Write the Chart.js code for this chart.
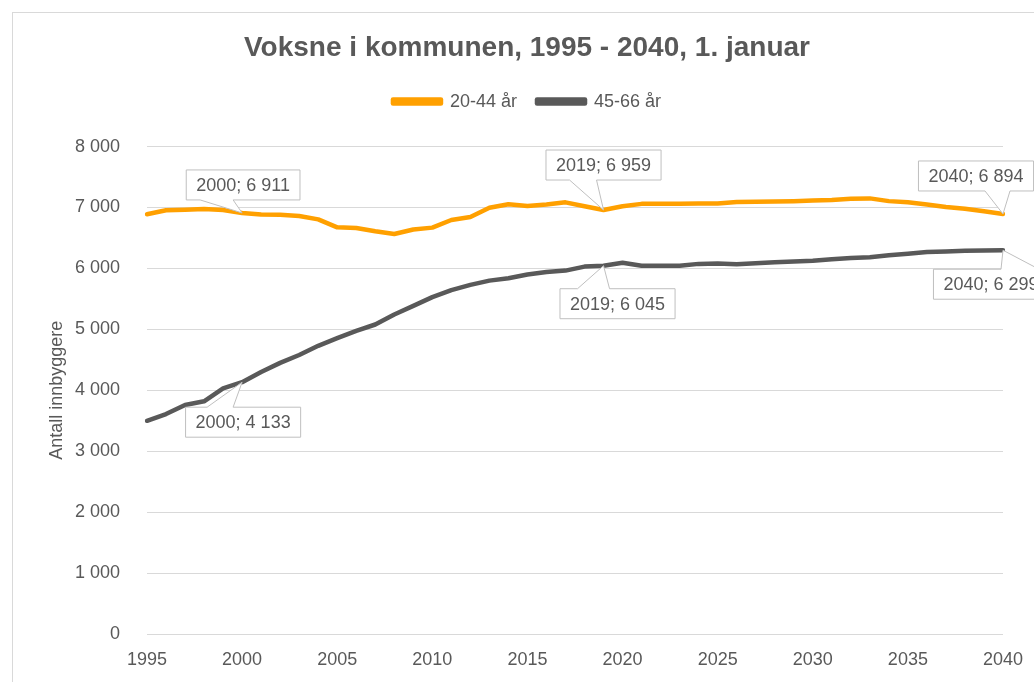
<!DOCTYPE html>
<html>
<head>
<meta charset="utf-8">
<script src="https://cdn.jsdelivr.net/npm/chart.js@4.4.0/dist/chart.umd.min.js"></script>
<style>
  html, body { margin: 0; padding: 0; background: #fff; overflow: hidden; }
  #box { position: absolute; left: 12px; top: 12px; width: 1030px; height: 700px; border: 1px solid #d9d9d9; }
  canvas { display: block; }
</style>
</head>
<body>
<div id="box"><canvas id="chart" width="1030" height="700"></canvas></div>
<script>
// Data

var years = [1995, 1996, 1997, 1998, 1999, 2000, 2001, 2002, 2003, 2004,
             2005, 2006, 2007, 2008, 2009, 2010, 2011, 2012, 2013, 2014,
             2015, 2016, 2017, 2018, 2019, 2020, 2021, 2022, 2023, 2024,
             2025, 2026, 2027, 2028, 2029, 2030, 2031, 2032, 2033, 2034,
             2035, 2036, 2037, 2038, 2039, 2040];

var age20to44 = [6890, 6955, 6965, 6975, 6960, 6911, 6885, 6880, 6860, 6805,
                 6675, 6665, 6610, 6565, 6640, 6670, 6795, 6845, 6995, 7055,
                 7025, 7050, 7085, 7020, 6959, 7020, 7060, 7060, 7060, 7065,
                 7065, 7090, 7095, 7100, 7105, 7115, 7125, 7145, 7150, 7105,
                 7085, 7050, 7010, 6980, 6940, 6894];

var age45to66 = [3500, 3610, 3760, 3820, 4030, 4133, 4300, 4450, 4580, 4730,
                 4855, 4975, 5080, 5245, 5385, 5530, 5645, 5730, 5800, 5840,
                 5900, 5940, 5965, 6030, 6045, 6095, 6045, 6045, 6045, 6075,
                 6080, 6070, 6085, 6100, 6115, 6125, 6150, 6170, 6185, 6215,
                 6240, 6270, 6280, 6290, 6295, 6299];

var seriesNames = ['20-44 år', '45-66 år'];
var yTicks = [0, 1000, 2000, 3000, 4000, 5000, 6000, 7000, 8000];
var labelYears = [2000, 2019, 2040];

var FONT = '"Liberation Sans", Arial, sans-serif';
var GREY = '#595959';

function fmt(v) {
  return String(v).replace(/\B(?=(\d{3})+(?!\d))/g, ' ');
}

// where each callout box sits relative to its point (dataset, year, offsets, wedge side/base)
var callouts = [
  {ds: 0, year: labelYears[0], dx: 1,   dy: -28, side: 'bottom', b: [-42, -9]},
  {ds: 0, year: labelYears[1], dx: 0,   dy: -45, side: 'bottom', b: [-34, -7]},
  {ds: 0, year: labelYears[2], dx: -27, dy: -38, side: 'bottom', b: [-18, 7]},
  {ds: 1, year: labelYears[0], dx: 1,   dy: 40,  side: 'top',    b: [-35, -9]},
  {ds: 1, year: labelYears[1], dx: 14,  dy: 38,  side: 'top',    b: [-26, 6]},
  {ds: 1, year: labelYears[2], dx: -12, dy: 34,  side: 'top',    b: [-2, 36]}
];

var calloutPlugin = {
  id: 'callouts',
  afterDatasetsDraw: function(chart) {
    var ctx = chart.ctx;
    ctx.save();
    ctx.font = '18px ' + FONT;
    callouts.forEach(function(c) {
      var i = years.indexOf(c.year);
      var pt = chart.getDatasetMeta(c.ds).data[i];
      var val = chart.data.datasets[c.ds].data[i];
      var txt = c.year + '; ' + fmt(val);
      var w = ctx.measureText(txt).width + 20, h = 30;
      var cx = pt.x + c.dx, cy = pt.y + c.dy;
      var x0 = cx - w / 2, x1 = cx + w / 2, y0 = cy - h / 2, y1 = cy + h / 2;
      var bx1 = pt.x + c.b[0], bx2 = pt.x + c.b[1];
      ctx.beginPath();
      if (c.side === 'top') {
        ctx.moveTo(x0, y0);
        ctx.lineTo(bx1, y0);
        ctx.lineTo(pt.x, pt.y);
        ctx.lineTo(bx2, y0);
        ctx.lineTo(x1, y0);
        ctx.lineTo(x1, y1);
        ctx.lineTo(x0, y1);
      } else {
        ctx.moveTo(x0, y0);
        ctx.lineTo(x1, y0);
        ctx.lineTo(x1, y1);
        ctx.lineTo(bx2, y1);
        ctx.lineTo(pt.x, pt.y);
        ctx.lineTo(bx1, y1);
        ctx.lineTo(x0, y1);
      }
      ctx.closePath();
      ctx.fillStyle = '#ffffff';
      ctx.fill();
      ctx.lineWidth = 1;
      ctx.strokeStyle = '#bfbfbf';
      ctx.stroke();
      ctx.fillStyle = GREY;
      ctx.textAlign = 'center';
      ctx.textBaseline = 'middle';
      ctx.fillText(txt, cx, cy + 1);
    });
    ctx.restore();
  }
};

var ctx = document.getElementById('chart').getContext('2d');
var chart = new Chart(ctx, {
  type: 'line',
  data: {
    labels: years,
    datasets: [{
      label: seriesNames[0],
      data: age20to44,
      borderColor: '#ffa000',
      backgroundColor: '#ffa000',
      borderWidth: 4.5,
      pointRadius: 0,
      tension: 0,
      borderJoinStyle: 'round',
      borderCapStyle: 'round'
    }, {
      label: seriesNames[1],
      data: age45to66,
      borderColor: '#595959',
      backgroundColor: '#595959',
      borderWidth: 4.5,
      pointRadius: 0,
      tension: 0,
      borderJoinStyle: 'round',
      borderCapStyle: 'round'
    }]
  },
  options: {
    responsive: false,
    animation: false,
    layout: {padding: {left: 38, right: 40, top: 0, bottom: 0}},
    plugins: {
      tooltip: {enabled: false},
      title: {
        display: true,
        text: 'Voksne i kommunen, 1995 - 2040, 1. januar',
        color: GREY,
        font: {family: FONT, size: 28, weight: 'bold', lineHeight: 1.2},
        padding: {top: 18, bottom: 8}
      },
      subtitle: {
        display: true,
        text: '',
        weight: 500,
        font: {size: 10, lineHeight: 1},
        padding: {top: 16, bottom: 0}
      },
      legend: {
        display: true,
        position: 'top',
        labels: {
          color: GREY,
          font: {family: FONT, size: 18},
          boxWidth: 48,
          boxHeight: 4,
          padding: 20
        }
      }
    },
    scales: {
      x: {
        type: 'category',
        offset: false,
        grid: {display: false, drawTicks: false},
        border: {display: false},
        afterFit: function(s) { s.height = 79; },
        ticks: {
          autoSkip: false,
          maxRotation: 0,
          padding: 15,
          color: GREY,
          font: {family: FONT, size: 18},
          callback: function(v, i) {
            var y = years[i];
            return y % 5 === 0 ? String(y) : '';
          }
        }
      },
      y: {
        min: yTicks[0],
        max: yTicks[yTicks.length - 1],
        afterFit: function(s) { s.width = 96; },
        afterBuildTicks: function(s) {
          s.ticks = yTicks.map(function(v) { return {value: v}; });
        },
        grid: {color: '#d9d9d9', lineWidth: 1, drawTicks: false},
        border: {display: false},
        ticks: {
          padding: 27,
          color: GREY,
          font: {family: FONT, size: 18},
          callback: function(v) { return fmt(v); }
        },
        title: {
          display: true,
          text: 'Antall innbyggere',
          color: GREY,
          font: {family: FONT, size: 18, lineHeight: 1},
          padding: {top: -3, bottom: 0}
        }
      }
    }
  },
  plugins: [calloutPlugin]
});
</script>
</body>
</html>
